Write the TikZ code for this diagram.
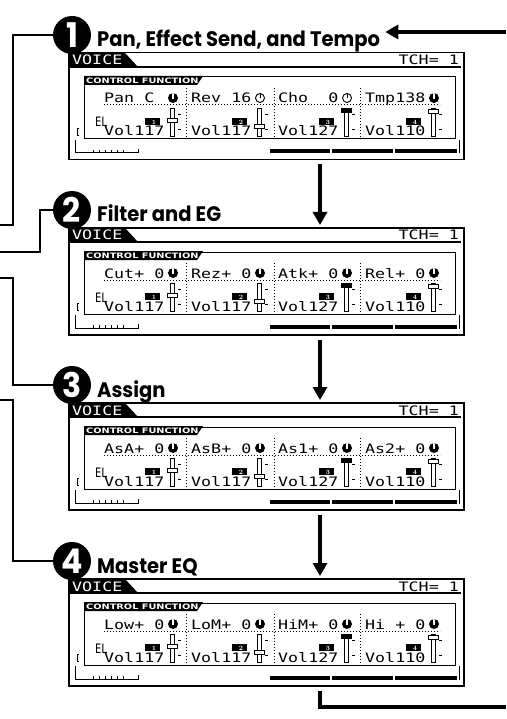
\documentclass[tikz,border=0pt]{standalone}
\usepackage{fontspec}
\usepackage{graphicx}
\usepackage{tikz}
\usetikzlibrary{arrows.meta, positioning, calc}
\newfontfamily\headfont{Poppins}[FakeStretch=0.93]
\newfontfamily\lcdfont{DejaVu Sans Mono}[FakeStretch=1.28]
\newfontfamily\tabfont{DejaVu Sans}[FakeStretch=1.3]

\begin{document}
\begin{tikzpicture}[x=1pt, y=-1pt, >=Stealth,
  lcd/.style={font=\lcdfont\fontsize{13}{13}\selectfont, inner sep=0pt, anchor=base west},
  steptitle/.style={font=\headfont\bfseries\fontsize{21}{21}\selectfont, inner sep=0pt, anchor=base west},
  numdisc/.style={circle, fill=black, minimum size=38pt, inner sep=0pt, text=white,
    font=\headfont\bfseries\fontsize{34}{34}\selectfont},
  lcdscreen/.style={draw, line width=1.5pt, minimum width=395pt, minimum height=107pt,
    inner sep=0pt, anchor=north west},
  tabtext/.style={font=\tabfont\bfseries\fontsize{7.5}{7.5}\selectfont, text=white,
    inner sep=0pt, anchor=base west},
  badge/.style={font=\bfseries\fontsize{6.5}{6.5}\selectfont, text=white, inner sep=0pt, anchor=base},
  knobon/.style={circle, fill=black, minimum size=10pt, inner sep=0pt,
    path picture={\draw[white, line width=1.3pt] ([yshift=-1pt]path picture bounding box.center)
      -- (path picture bounding box.north);}},
  knoboff/.style={circle, draw, line width=0.9pt, minimum size=9pt, inner sep=0pt,
    path picture={\draw[line width=1pt] (path picture bounding box.center)
      -- (path picture bounding box.north);}},
  wire/.style={line width=2.5pt},
  flow/.style={line width=3.5pt, -{Triangle[length=13pt, width=14pt]}}]
\useasboundingbox (0,0) rectangle (506,719);

% the four screens
\foreach \n/\ytop/\ttl/\cells in {
  1/52/{Pan, Effect Send, and Tempo}/{Pan~C/knobon, Rev~16/knoboff, Cho~~0/knoboff, Tmp138/knobon},
  2/227/{Filter and EG}/{Cut+~0/knobon, Rez+~0/knobon, Atk+~0/knobon, Rel+~0/knobon},
  3/402/{Assign}/{AsA+~0/knobon, AsB+~0/knobon, As1+~0/knobon, As2+~0/knobon},
  4/578/{Master EQ}/{Low+~0/knobon, LoM+~0/knobon, HiM+~0/knobon, Hi~+~0/knobon}}{
  \begin{scope}[shift={(68,\ytop)}]
    \node[lcdscreen] (s\n) at (0,0) {};
    % header
    \fill (2,1) -- (57,1) -- (70,15) -- (2,15) -- cycle;
    \draw[line width=2pt] (2,15) -- (393,15);
    \node[lcd, text=white] (vo\n) at (4,13) {VOICE};
    \node[lcd, anchor=base east] (tch\n) at (391,13) {TCH=~1};
    % control function box
    \draw[line width=1pt] (16,25) rectangle (387,87);
    \fill (16,24) -- (135,24) -- (129,33) -- (16,33) -- cycle;
    \node[tabtext] (cf\n) at (18,31.3) {CONTROL FUNCTION};
    \draw[dotted, line width=1pt] (36,53) -- (372,53);
    \foreach \x in {118,206,292}
      \draw[dotted, line width=1pt] (\x,36) -- (\x,87);
    \foreach \txt/\kn [count=\i] in \cells {
      \pgfmathsetmacro\xo{36+87*(\i-1)}
      \node[lcd] (p\n-\i) at (\xo,51) {\txt};
      \node[\kn] (k\n-\i) at (\xo+69,46) {};
    }
    \foreach \vol/\hy/\hf [count=\i] in {117/68/white, 117/74/white, 127/58/black, 110/59/white} {
      \pgfmathsetmacro\xo{36+87*(\i-1)}
      \pgfmathsetmacro\c{\xo+68}
      \fill (\xo+41,66) rectangle (\xo+56,73);
      \node[badge] (b\n-\i) at (\xo+50,72.3) {\i};
      \draw[line width=0.8pt] (\c-2,56) rectangle (\c+2,84);
      \filldraw[fill=\hf, line width=0.8pt] (\c-5,\hy-2) rectangle (\c+5,\hy+2);
      \draw[line width=0.8pt] (\c+6,62) -- ++(2.5,0) (\c+6,77) -- ++(2.5,0);
      \node[lcd] (vol\n-\i) at (\xo,84) {Vol\vol};
    }
    \node[lcd] (el\n) at (27,75) {\scalebox{0.62}[1]{EL}};
    % soft keys
    \draw[line width=0.8pt] (11,76) -- (9,76) -- (9,83) -- (11,83);
    \draw[line width=1pt] (7,88) -- (7,101) -- (70,101) -- (70,97);
    \foreach \x in {25,31,...,55}
      \draw[line width=0.8pt] (\x,98) -- (\x,101);
    \foreach \a/\b in {202/262, 264/325, 327/389}
      \fill (\a,97.5) rectangle (\b,101.5);
    \draw[line width=1pt] (391,88) -- (391,101.5);
    % step number and title
    \node[numdisc] (c\n) at (4,-17) {\n};
    \node[steptitle] (t\n) at (29,-5) {\ttl};
  \end{scope}
}

% free ends
\coordinate (e1) at (0,225);
\coordinate (e2) at (0,252);
\coordinate (e3) at (0,278);
\coordinate (e4) at (0,400);
\coordinate (in) at (506,32);
\coordinate (out) at (506,707);

% lines to the left edge
\draw[wire] (c1.west) -| ($(e1)+(13,0)$) -- (e1);
\draw[wire] (c2.west) -| ($(e2)+(40,0)$) -- (e2);
\draw[wire] (e3) -- ++(13,0) |- (c3.west);
\draw[wire] (e4) -- ++(13,0) |- (c4.west);

% flow between screens
\foreach \a/\b in {1/2, 2/3, 3/4}
  \draw[flow] ($(s\a.south west)+(252,4)$) -- ($(s\b.north west)+(252,-2)$);
\draw[flow] (in) -- ($(t1.east |- in)+(5,0)$);
\draw[line width=4pt] ($(s4.south west)+(252,4)$) |- (out);
\end{tikzpicture}
\end{document}
